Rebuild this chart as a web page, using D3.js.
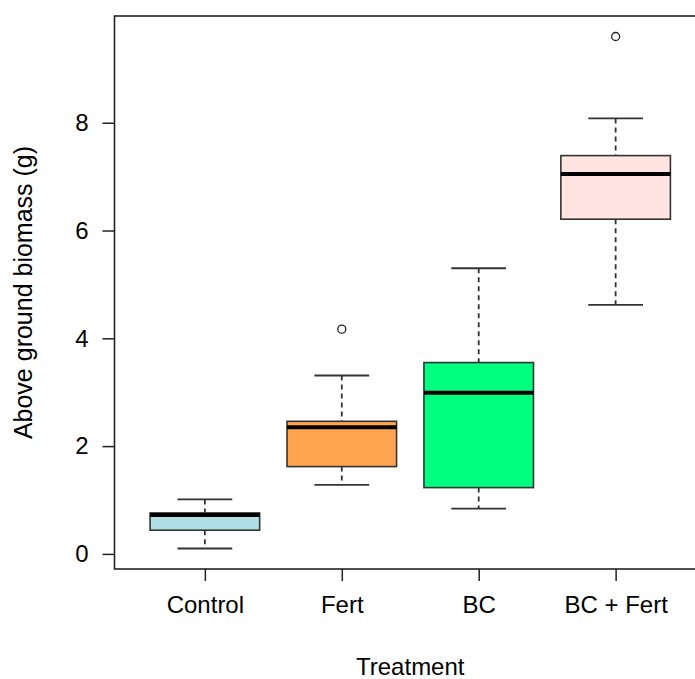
<!DOCTYPE html>
<html>
<head>
<meta charset="utf-8">
<script src="https://cdn.jsdelivr.net/npm/d3@7"></script>
<style>
  body { margin: 0; background: #fff; }
  text { font-family: Arial, "Liberation Sans", sans-serif; fill: #000; }
</style>
</head>
<body>
<div id="chart"></div>
<script>
// Box statistics
var categories = ["Control", "Fert", "BC", "BC + Fert"];
var lowerWhisker = [0.10, 1.28, 0.84, 4.62];
var q1 = [0.44, 1.62, 1.23, 6.21];
var medians = [0.72, 2.35, 2.99, 7.05];
var q3 = [0.76, 2.46, 3.55, 7.39];
var upperWhisker = [1.01, 3.31, 5.30, 8.08];
var outliers = [[], [4.17], [], [9.60]];
var fills = ["#B0E0E6", "#FFA54F", "#00FF7F", "#FFE4E1"];
var yTicks = [0, 2, 4, 6, 8];

var W = 695, H = 679;
var margin = { top: 16, left: 114.5, bottom: 110 },
    plotBottom = H - margin.bottom,
    plotRight = 706;
var fontSize = "24px";

var svg = d3.select("#chart")
    .append("svg")
    .attr("width", W)
    .attr("height", H);

// R-style 4% padding on both axes
var allVals = lowerWhisker.concat(upperWhisker, d3.merge(outliers));
var lo = d3.min(allVals), hi = d3.max(allVals), pad = (hi - lo) * 0.04;

var x = d3.scaleLinear()
    .domain([0.5 - 0.16, categories.length + 0.5 + 0.16])
    .range([margin.left, plotRight]);

var y = d3.scaleLinear()
    .domain([lo - pad, hi + pad])
    .range([plotBottom, margin.top]);

var boxHalf = (x(1.4) - x(1)),
    capHalf = boxHalf / 2;

var data = categories.map(function (c, i) {
    return { name: c, i: i + 1, lw: lowerWhisker[i], q1: q1[i], med: medians[i],
             q3: q3[i], uw: upperWhisker[i], out: outliers[i], fill: fills[i] };
});

var boxes = svg.selectAll(".box").data(data).enter()
    .append("g")
    .attr("class", "box");

// whiskers
boxes.append("line")
    .attr("x1", function (d) { return x(d.i); })
    .attr("x2", function (d) { return x(d.i); })
    .attr("y1", function (d) { return y(d.uw); })
    .attr("y2", function (d) { return y(d.q3); })
    .attr("stroke", "#333").attr("stroke-width", 1.8)
    .attr("stroke-dasharray", "5,4");
boxes.append("line")
    .attr("x1", function (d) { return x(d.i); })
    .attr("x2", function (d) { return x(d.i); })
    .attr("y1", function (d) { return y(d.q1); })
    .attr("y2", function (d) { return y(d.lw); })
    .attr("stroke", "#333").attr("stroke-width", 1.8)
    .attr("stroke-dasharray", "5,4");

// caps
["uw", "lw"].forEach(function (k) {
    boxes.append("line")
        .attr("x1", function (d) { return x(d.i) - capHalf; })
        .attr("x2", function (d) { return x(d.i) + capHalf; })
        .attr("y1", function (d) { return y(d[k]); })
        .attr("y2", function (d) { return y(d[k]); })
        .attr("stroke", "#333").attr("stroke-width", 1.8);
});

// boxes
boxes.append("rect")
    .attr("x", function (d) { return x(d.i) - boxHalf; })
    .attr("width", boxHalf * 2)
    .attr("y", function (d) { return y(d.q3); })
    .attr("height", function (d) { return y(d.q1) - y(d.q3); })
    .attr("fill", function (d) { return d.fill; })
    .attr("stroke", "#333").attr("stroke-width", 1.6);

// medians
boxes.append("line")
    .attr("x1", function (d) { return x(d.i) - boxHalf; })
    .attr("x2", function (d) { return x(d.i) + boxHalf; })
    .attr("y1", function (d) { return y(d.med); })
    .attr("y2", function (d) { return y(d.med); })
    .attr("stroke", "#000").attr("stroke-width", 4);

// outliers
boxes.selectAll(".outlier")
    .data(function (d) { return d.out.map(function (v) { return { i: d.i, v: v }; }); })
    .enter().append("circle")
    .attr("class", "outlier")
    .attr("cx", function (d) { return x(d.i); })
    .attr("cy", function (d) { return y(d.v); })
    .attr("r", 4)
    .attr("fill", "#fff")
    .attr("stroke", "#222").attr("stroke-width", 1.3);

// plot frame
svg.append("rect")
    .attr("x", margin.left).attr("y", margin.top)
    .attr("width", plotRight - margin.left)
    .attr("height", plotBottom - margin.top)
    .attr("fill", "none").attr("stroke", "#222").attr("stroke-width", 1.6);

// y axis
var yAxis = svg.append("g")
    .attr("transform", "translate(" + margin.left + ",0)")
    .call(d3.axisLeft(y).tickValues(yTicks).tickSize(12).tickPadding(14).tickFormat(d3.format("d")));
yAxis.select(".domain").remove();
yAxis.selectAll("line").attr("stroke", "#222").attr("stroke-width", 1.5);
yAxis.selectAll("text").attr("font-size", fontSize).attr("font-family", "Arial, 'Liberation Sans', sans-serif");

// x axis
var xAxis = svg.append("g")
    .attr("transform", "translate(0," + plotBottom + ")")
    .call(d3.axisBottom(x).tickValues(d3.range(1, categories.length + 1))
        .tickSize(12).tickPadding(15)
        .tickFormat(function (d) { return categories[d - 1]; }));
xAxis.select(".domain").remove();
xAxis.selectAll("line").attr("stroke", "#222").attr("stroke-width", 1.5);
xAxis.selectAll("text").attr("font-size", fontSize).attr("font-family", "Arial, 'Liberation Sans', sans-serif");

// axis titles
svg.append("text")
    .attr("x", x(2.5))
    .attr("y", 675)
    .attr("text-anchor", "middle")
    .attr("font-size", fontSize)
    .text("Treatment");

svg.append("text")
    .attr("transform", "rotate(-90)")
    .attr("x", -(margin.top + plotBottom) / 2)
    .attr("y", 32)
    .attr("text-anchor", "middle")
    .attr("font-size", "25px")
    .text("Above ground biomass (g)");
</script>
</body>
</html>
